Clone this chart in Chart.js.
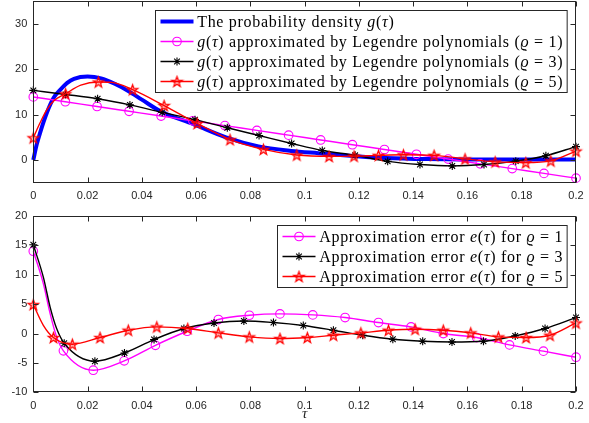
<!DOCTYPE html>
<html>
<head>
<meta charset="utf-8">
<script src="https://cdn.jsdelivr.net/npm/chart.js@4.4.1/dist/chart.umd.min.js"></script>
<style>
html, body { margin: 0; padding: 0; background: #fff; }
#wrap { position: relative; width: 589px; height: 423px; }
#topChart { position: absolute; left: 0; top: 0; }
#botChart { position: absolute; left: 0; top: 210px; }
</style>
</head>
<body>
<div id="wrap">
  <canvas id="topChart" width="589" height="210"></canvas>
  <canvas id="botChart" width="589" height="213"></canvas>
</div>
<script>
// axes
const xTicks = [0, 0.02, 0.04, 0.06, 0.08, 0.1, 0.12, 0.14, 0.16, 0.18, 0.2];
const yTicksTop = [0, 10, 20, 30];
const yTicksBottom = [-10, -5, 0, 5, 10, 15, 20];

// top panel: the density g(tau)
const tauDensity = [0, 0.00125, 0.0025, 0.005, 0.0075, 0.01, 0.0125, 0.015, 0.02, 0.025, 0.03, 0.035, 0.04, 0.047, 0.059, 0.071, 0.083, 0.095, 0.105, 0.118, 0.13, 0.145, 0.16, 0.18, 0.2];
const density = [0, 3.4, 6.0, 10.4, 13.7, 15.5, 17.0, 17.9, 18.4, 18.0, 16.8, 15.2, 13.3, 10.7, 7.9, 5.0, 3.0, 2.0, 1.5, 0.9, 0.45, 0.2, 0.12, 0.1, 0.1];

// top panel: Legendre approximations (marker points)
const tauApprox1 = [0, 0.0118, 0.0235, 0.0353, 0.0471, 0.0588, 0.0706, 0.0824, 0.0941, 0.1059, 0.1176, 0.1294, 0.1412, 0.1529, 0.1647, 0.1765, 0.1882, 0.2];
const approx1 = [13.9, 12.85, 11.79, 10.74, 9.69, 8.64, 7.58, 6.53, 5.48, 4.42, 3.37, 2.32, 1.26, 0.21, -0.84, -1.89, -2.95, -4.0];

const tauApprox3 = [0, 0.0119, 0.0237, 0.0356, 0.0475, 0.0596, 0.0715, 0.0832, 0.0952, 0.1065, 0.1186, 0.1306, 0.1425, 0.1544, 0.1661, 0.1778, 0.1889, 0.2];
const approx3 = [15.35, 14.45, 13.5, 12.15, 10.5, 8.9, 7.1, 5.4, 3.65, 2.1, 1.03, -0.3, -1.0, -1.3, -1.0, -0.25, 0.95, 2.95];

const tauApprox5 = [0, 0.0119, 0.024, 0.0366, 0.0482, 0.0604, 0.0725, 0.0848, 0.0971, 0.109, 0.1182, 0.1272, 0.1364, 0.1477, 0.1591, 0.1702, 0.1815, 0.1907, 0.2];
const approx5 = [4.9, 14.6, 17.2, 15.5, 12.0, 8.05, 4.5, 2.35, 1.1, 0.8, 0.85, 1.03, 1.15, 1.03, 0.25, -0.4, -0.58, -0.2, 1.97];
const tauApprox5Extra = [0.0025, 0.005, 0.0075, 0.0175, 0.029];
const approx5Extra = [8.2, 11.1, 13.0, 16.5, 17.1];

// bottom panel: approximation errors e(tau)
const tauError1 = [0, 0.0111, 0.0221, 0.0335, 0.045, 0.0567, 0.0682, 0.0796, 0.0909, 0.103, 0.1149, 0.1272, 0.1392, 0.1511, 0.1634, 0.1755, 0.188, 0.2];
const error1 = [14.0, -2.95, -6.24, -4.65, -2.0, 0.39, 2.38, 3.11, 3.34, 3.17, 2.72, 1.87, 1.13, 0.0, -0.68, -1.93, -3.0, -4.03];
const tauError1Extra = [0.0037, 0.0062, 0.0086];
const error1Extra = [8.5, 3.4, -0.57];

const tauError3 = [0, 0.0114, 0.0227, 0.0336, 0.0445, 0.0555, 0.0666, 0.0776, 0.0885, 0.0995, 0.1106, 0.1214, 0.1325, 0.1435, 0.1543, 0.1659, 0.1776, 0.1886, 0.2];
const error3 = [15.1, -1.65, -4.71, -3.3, -1.02, 0.85, 1.8, 2.14, 1.87, 1.36, 0.56, -0.29, -0.97, -1.31, -1.43, -1.31, -0.4, 0.85, 2.72];
const tauError3Extra = [0.0037, 0.0062, 0.0086];
const error3Extra = [9.6, 4.5, 0.85];

const tauError5 = [0, 0.0074, 0.0144, 0.0246, 0.035, 0.0455, 0.0569, 0.0682, 0.0796, 0.0909, 0.101, 0.1106, 0.1207, 0.1309, 0.1407, 0.1511, 0.1612, 0.1714, 0.1816, 0.1904, 0.2];
const error5 = [4.93, -0.68, -1.82, -0.68, 0.56, 1.13, 0.85, 0.11, -0.57, -0.85, -0.68, -0.29, 0.11, 0.56, 0.73, 0.56, 0.11, -0.57, -0.68, -0.29, 1.8];
const tauError5Extra = [0.0037];
const error5Extra = [1.4];

// legend texts, |...| marks italic (math) parts
const topLabels = [
  'The probability density |g|(|τ|)',
  '|g|(|τ|) approximated by Legendre polynomials (|ϱ| = 1)',
  '|g|(|τ|) approximated by Legendre polynomials (|ϱ| = 3)',
  '|g|(|τ|) approximated by Legendre polynomials (|ϱ| = 5)'
];
const bottomLabels = [
  'Approximation error |e|(|τ|) for |ϱ| = 1',
  'Approximation error |e|(|τ|) for |ϱ| = 3',
  'Approximation error |e|(|τ|) for |ϱ| = 5'
];

const BLUE = '#0000ff', MAGENTA = '#ff00ff', BLACK = '#000000', RED = '#ff0000';
const AXIS = '#262626';
const SERIF = '"Liberation Serif", "DejaVu Serif", serif';
const LEGEND_SIZE = 16;
const LETTER_SPACING = 0.7;

// markers may hang over the axes box (like MATLAB), so they should not shrink the plot area
Chart.LineController.prototype.getMaxOverflow = function () { return 0; };

function starImage(color, R) {
  const s = Math.ceil(2 * R + 4);
  const c = document.createElement('canvas');
  c.width = c.height = s;
  const g = c.getContext('2d');
  g.translate(s / 2, s / 2 + 0.5);
  g.beginPath();
  for (let i = 0; i < 10; i++) {
    const r = i % 2 ? R * 0.4 : R;
    const a = -Math.PI / 2 + i * Math.PI / 5;
    g.lineTo(r * Math.cos(a), r * Math.sin(a));
  }
  g.closePath();
  g.fillStyle = 'rgba(255,0,0,0.3)';
  g.fill();
  g.strokeStyle = color;
  g.lineWidth = 1.2;
  g.stroke();
  return c;
}
const redStar = starImage(RED, 5.5);

const markerStyles = {
  none: { pointRadius: 0 },
  circle: { pointStyle: 'circle', pointRadius: 4.3, pointBorderWidth: 1.1, pointBackgroundColor: 'rgba(0,0,0,0)' },
  asterisk: { pointStyle: 'star', pointRadius: 4, pointBorderWidth: 1.1 },
  star: { pointStyle: redStar, pointRadius: 5.5 }
};

function toPoints(t, v) {
  return t.map((x, i) => ({ x: x, y: v[i] }));
}
function curvePoints(t, v, te, ve) {
  return toPoints(t, v).concat(toPoints(te || [], ve || [])).sort((a, b) => a.x - b.x);
}

function series(color, width, marker, t, v, te, ve, order) {
  const line = {
    data: curvePoints(t, v, te, ve),
    borderColor: color, borderWidth: width, pointRadius: 0,
    cubicInterpolationMode: 'monotone', clip: false, order: order
  };
  const out = [line];
  if (marker !== 'none') {
    out.push(Object.assign({
      data: toPoints(t, v), showLine: false,
      borderColor: color, pointBorderColor: color, clip: false, order: order
    }, markerStyles[marker]));
  }
  return out;
}

// MATLAB-like box with inward ticks
const boxPlugin = {
  id: 'box',
  afterDraw(chart) {
    const { ctx, chartArea: a, scales } = chart;
    const L = Math.round(a.left) + 0.5, R = Math.round(a.right) - 0.5;
    const T = Math.round(a.top) + 0.5, B = Math.round(a.bottom) - 0.5;
    ctx.save();
    ctx.strokeStyle = AXIS;
    ctx.lineWidth = 1;
    ctx.strokeRect(L, T, R - L, B - T);
    ctx.beginPath();
    scales.x.ticks.forEach(t => {
      const x = Math.round(scales.x.getPixelForValue(t.value)) + 0.5;
      ctx.moveTo(x, B); ctx.lineTo(x, B - 5);
      ctx.moveTo(x, T); ctx.lineTo(x, T + 5);
    });
    scales.y.ticks.forEach(t => {
      const y = Math.round(scales.y.getPixelForValue(t.value)) + 0.5;
      ctx.moveTo(L, y); ctx.lineTo(L + 5, y);
      ctx.moveTo(R, y); ctx.lineTo(R - 5, y);
    });
    ctx.stroke();
    ctx.restore();
  }
};

function setFont(ctx, italic) {
  ctx.font = (italic ? 'italic ' : '') + LEGEND_SIZE + 'px ' + SERIF;
  ctx.letterSpacing = LETTER_SPACING + 'px';
}
function segWidth(ctx, seg) {
  const w = ctx.measureText(seg).width;
  // add spacing by hand if the browser does not include it in measureText
  ctx.letterSpacing = '0px';
  const plain = ctx.measureText(seg).width;
  ctx.letterSpacing = LETTER_SPACING + 'px';
  return w > plain + 0.01 ? w : w + seg.length * LETTER_SPACING;
}
function richWidth(ctx, str) {
  let w = 0;
  str.split('|').forEach((seg, i) => {
    setFont(ctx, i % 2);
    w += segWidth(ctx, seg);
  });
  return w;
}
function richText(ctx, str, x, y) {
  str.split('|').forEach((seg, i) => {
    setFont(ctx, i % 2);
    ctx.fillText(seg, x, y);
    x += segWidth(ctx, seg);
  });
  ctx.letterSpacing = '0px';
}

function drawMarker(ctx, type, color, x, y) {
  ctx.strokeStyle = color;
  ctx.lineWidth = 1.1;
  if (type === 'circle') {
    ctx.beginPath(); ctx.arc(x, y, 4.3, 0, Math.PI * 2); ctx.stroke();
  } else if (type === 'asterisk') {
    ctx.beginPath();
    const r = 4, d = r * Math.SQRT1_2;
    ctx.moveTo(x - r, y); ctx.lineTo(x + r, y);
    ctx.moveTo(x, y - r); ctx.lineTo(x, y + r);
    ctx.moveTo(x - d, y - d); ctx.lineTo(x + d, y + d);
    ctx.moveTo(x - d, y + d); ctx.lineTo(x + d, y - d);
    ctx.stroke();
  } else if (type === 'star') {
    ctx.drawImage(redStar, x - redStar.width / 2, y - redStar.height / 2);
  }
}

const legendPlugin = {
  id: 'boxLegend',
  afterDraw(chart, args, opts) {
    const { ctx, chartArea: a } = chart;
    const items = opts.items;
    ctx.save();
    const textW = Math.max(...items.map(it => richWidth(ctx, it.label)));
    const w = 41.7 + textW + 4, h = items.length * 20 + 2;
    const x0 = Math.round(a.right - 9.3 - w) + 0.5, y0 = Math.round(a.top + 8.8) + 0.5;
    ctx.fillStyle = '#fff';
    ctx.fillRect(x0, y0, w, h);
    ctx.strokeStyle = AXIS;
    ctx.lineWidth = 1;
    ctx.strokeRect(x0, y0, w, h);
    items.forEach((it, i) => {
      const cy = y0 + 11 + i * 20;
      ctx.beginPath();
      ctx.strokeStyle = it.color;
      ctx.lineWidth = it.width;
      ctx.moveTo(x0 + 5, cy); ctx.lineTo(x0 + 38, cy);
      ctx.stroke();
      drawMarker(ctx, it.marker, it.color, x0 + 21.5, cy);
      ctx.fillStyle = '#000';
      ctx.textBaseline = 'middle';
      ctx.textAlign = 'left';
      richText(ctx, it.label, x0 + 41.7, cy + 1);
    });
    ctx.restore();
  }
};

function fmtTick(v) {
  return String(Number(v.toFixed(2)));
}

function makeChart(id, datasets, yMin, yMax, yTicks, legendItems, pad, xHeight, xTitle) {
  return new Chart(document.getElementById(id), {
    type: 'line',
    data: { datasets: datasets },
    options: {
      responsive: false,
      animation: false,
      events: [],
      layout: { padding: pad },
      plugins: {
        legend: { display: false },
        tooltip: { enabled: false },
        boxLegend: { items: legendItems }
      },
      scales: {
        x: {
          type: 'linear', min: 0, max: 0.2,
          afterBuildTicks: s => { s.ticks = xTicks.map(v => ({ value: v })); },
          afterFit: s => { s.height = xHeight; s.paddingLeft = 0; s.paddingRight = 0; },
          grid: { display: false, drawTicks: false },
          border: { display: false },
          ticks: {
            callback: v => fmtTick(v), color: AXIS, padding: 7,
            font: { family: '"Liberation Sans", Arial, sans-serif', size: 11 },
            maxRotation: 0, autoSkip: false
          },
          title: xTitle ? {
            display: true, text: xTitle, color: AXIS,
            font: { family: SERIF, style: 'italic', size: 15 },
            padding: { top: 0, bottom: 0 }
          } : { display: false }
        },
        y: {
          type: 'linear', min: yMin, max: yMax,
          afterBuildTicks: s => { s.ticks = yTicks.map(v => ({ value: v })); },
          afterFit: s => { s.width = 33.3; s.paddingTop = 0; s.paddingBottom = 0; },
          grid: { display: false, drawTicks: false },
          border: { display: false },
          ticks: {
            color: AXIS, padding: 6,
            font: { family: '"Liberation Sans", Arial, sans-serif', size: 11 }
          }
        }
      }
    },
    plugins: [boxPlugin, legendPlugin]
  });
}

const topSets = [].concat(
  series(BLUE, 4, 'none', tauDensity, density, null, null, 3),
  series(MAGENTA, 1.4, 'circle', tauApprox1, approx1, null, null, 2),
  series(BLACK, 1.4, 'asterisk', tauApprox3, approx3, null, null, 1),
  series(RED, 1.4, 'star', tauApprox5, approx5, tauApprox5Extra, approx5Extra, 0)
);
const botSets = [].concat(
  series(MAGENTA, 1.4, 'circle', tauError1, error1, tauError1Extra, error1Extra, 2),
  series(BLACK, 1.4, 'asterisk', tauError3, error3, tauError3Extra, error3Extra, 1),
  series(RED, 1.4, 'star', tauError5, error5, tauError5Extra, error5Extra, 0)
);

makeChart('topChart', topSets, -5, 35, yTicksTop, [
  { label: topLabels[0], color: BLUE, width: 4, marker: 'none' },
  { label: topLabels[1], color: MAGENTA, width: 1.4, marker: 'circle' },
  { label: topLabels[2], color: BLACK, width: 1.4, marker: 'asterisk' },
  { label: topLabels[3], color: RED, width: 1.4, marker: 'star' }
], { left: 0, right: 13, top: 1.2, bottom: 0 }, 27.3, null);

makeChart('botChart', botSets, -10, 20, yTicksBottom, [
  { label: bottomLabels[0], color: MAGENTA, width: 1.4, marker: 'circle' },
  { label: bottomLabels[1], color: BLACK, width: 1.4, marker: 'asterisk' },
  { label: bottomLabels[2], color: RED, width: 1.4, marker: 'star' }
], { left: 0, right: 13, top: 6, bottom: 0 }, 30.7, 'τ');
</script>
</body>
</html>
